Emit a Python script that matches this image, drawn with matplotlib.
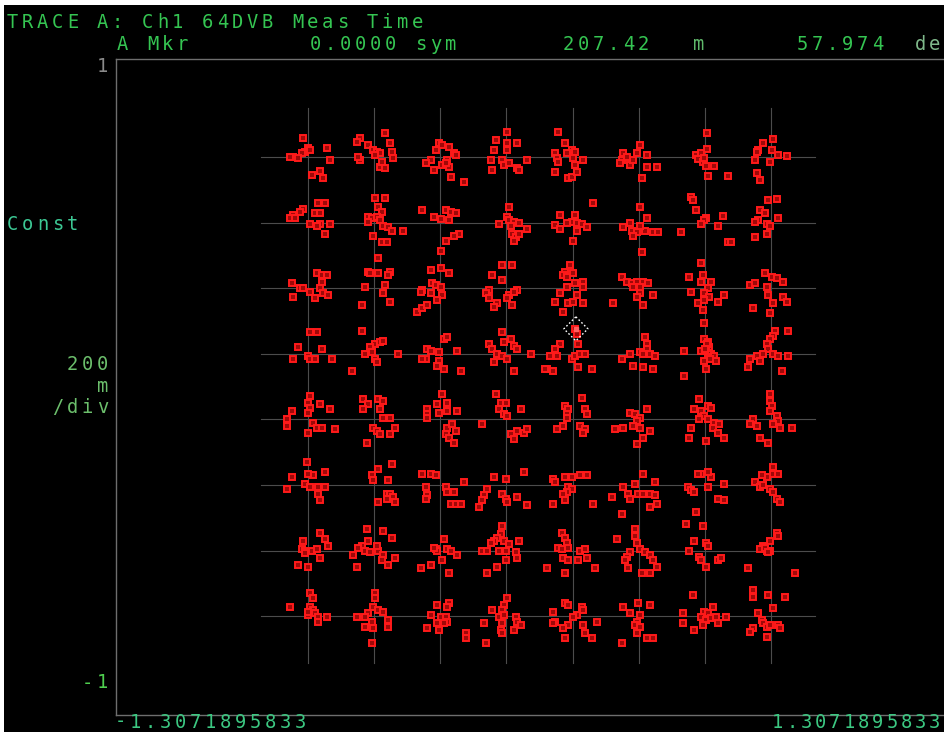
import numpy as np
import matplotlib
matplotlib.use("Agg")
import matplotlib.pyplot as plt
from matplotlib.patches import Rectangle

# 64-QAM ideal levels (normalised I/Q)
LEVELS = [-0.7, -0.5, -0.3, -0.1, 0.1, 0.3, 0.5, 0.7]

# measured symbol errors per constellation point, (dI, dQ) in counts of ERR_STEP;
# rows run from the top Q level down, dQ counted downward as on the analyzer grid
ERR_STEP = 1 / 330.0

ERR_ROW0 = [
    [(-5,-19),(0,-9),(-3,-5),(-6,-4),(-15,0),(-18,0),(-10,1),(2,-7),(19,-9),(22,3),(4,18),(12,14),(15,21)],
    [(-14,-19),(-17,-15),(-6,-12),(-1,-7),(3,-5),(6,-4),(1,-2),(-14,3),(-16,0),(11,-24),(16,-14),(18,-5),(19,1),(6,10),(11,11),(8,5)],
    [(-1,-14),(2,-12),(9,-10),(14,-4),(-4,-7),(-9,3),(-14,6),(-6,13),(2,8),(9,10),(7,3),(11,20),(24,25),(16,-2),(6,6)],
    [(1,-25),(-10,-17),(1,-14),(11,-14),(-12,-7),(1,-7),(-15,3),(-4,3),(-2,8),(21,3),(-14,13),(11,11),(13,13),(3,6)],
    [(-15,-25),(-8,-14),(-18,-4),(-16,1),(-15,5),(-1,-7),(2,-5),(0,1),(2,8),(10,3),(-18,15),(-5,21),(-1,20),(4,15),(-6,-4)],
    [(-16,-4),(-17,3),(-19,6),(-9,8),(-6,3),(-2,-4),(1,-12),(8,-2),(8,10),(18,10),(3,21),(-12,0)],
    [(2,-24),(2,-8),(-9,-2),(-7,2),(-2,5),(1,9),(9,9),(3,19),(23,19),(-4,-4),(-1,1)],
    [(2,-18),(-8,-14),(-13,-7),(-14,-5),(-16,3),(-1,5),(7,-2),(16,-1),(-14,16),(-11,23),(1,-7)],
]
ERR_ROW1 = [
    [(10,-20),(17,-20),(-5,-14),(-8,-11),(-15,-8),(-18,-5),(-13,-5),(7,-10),(12,-10),(2,2),(12,2),(22,2),(17,12),(9,4)],
    [(1,-25),(11,-25),(4,-16),(8,-11),(-6,-6),(-2,-5),(3,-6),(6,-3),(-6,-1),(9,4),(14,5),(18,9),(29,9),(-1,14),(8,20),(13,20)],
    [(-18,-13),(-6,-6),(1,-4),(6,-13),(11,-11),(16,-10),(9,-3),(19,12),(14,14),(6,19),(1,29)],
    [(3,-16),(1,-6),(3,-3),(8,-1),(13,0),(-7,2),(5,4),(21,7),(6,12),(10,15),(13,12),(8,19)],
    [(20,-20),(-13,-8),(2,-8),(-1,-1),(4,0),(9,2),(14,5),(-18,3),(-13,7),(4,9),(0,19),(-6,0)],
    [(1,-16),(8,-5),(-9,0),(-16,5),(-7,9),(-2,10),(6,9),(14,10),(19,10),(3,30),(-6,14),(1,4)],
    [(-14,-26),(-12,-23),(-9,-13),(1,-5),(-1,-3),(-4,2),(13,4),(18,-7),(-24,10),(23,20),(26,20)],
    [(-3,-23),(6,-24),(-11,-13),(-6,-10),(-13,-3),(-16,-1),(-4,2),(-1,4),(7,-5),(-4,12),(-16,15)],
]
ERR_ROW2 = [
    [(9,-15),(14,-13),(19,-13),(14,-6),(12,0),(15,5),(20,7),(-16,-5),(-8,0),(-5,0),(2,4),(-15,9),(7,10)],
    [(-6,-16),(-4,-15),(4,-15),(16,-16),(14,-13),(4,-30),(-9,-1),(11,-3),(9,5),(-12,17),(16,14)],
    [(-9,-18),(1,-20),(9,-15),(-8,-5),(-4,-3),(1,-1),(-18,2),(-9,5),(2,7),(-23,24),(-18,20),(-13,17),(-3,12),(-19,4)],
    [(-4,-23),(6,-23),(-14,-13),(-4,-8),(-17,2),(-20,5),(11,2),(3,7),(-17,10),(-9,15),(-12,19),(1,10),(6,17),(8,4)],
    [(-3,-23),(-8,-16),(-10,-13),(-6,-11),(0,-15),(10,-6),(2,-5),(-6,-1),(-13,5),(10,-1),(4,7),(-18,14),(-5,15),(0,14),(10,15),(-10,24)],
    [(-17,-11),(-12,-6),(-7,-5),(-2,-6),(4,-6),(9,-5),(1,-1),(-6,-1),(1,5),(-2,9),(14,7),(-26,15),(4,17)],
    [(-4,-25),(-16,-11),(-2,-13),(-4,-6),(6,-6),(3,0),(-14,4),(-1,5),(4,9),(19,7),(-7,15),(-2,22),(-1,12),(13,14),(-1,35)],
    [(-6,-15),(1,-11),(6,-10),(12,-6),(-21,-3),(-16,-5),(-4,-1),(-3,7),(12,9),(16,14),(-18,20),(-1,25),(2,15)],
]
ERR_ROW3 = [
    [(2,-22),(9,-22),(-10,-7),(14,-5),(0,2),(2,5),(7,5),(-15,5),(24,5)],
    [(-12,-23),(1,-10),(6,-12),(9,-13),(-4,-7),(-9,0),(-2,-2),(1,5),(3,8),(24,0),(-22,17)],
    [(4,-15),(7,-17),(-13,-5),(-9,-3),(-1,-2),(-14,5),(-18,5),(-1,7),(-3,12),(4,15),(21,17),(17,-3)],
    [(-4,-22),(-2,-12),(5,-15),(8,-8),(11,-5),(-17,-10),(-14,-5),(-9,0),(-4,2),(1,5),(-12,8),(8,17),(25,0)],
    [(2,-25),(4,-20),(5,-10),(-13,-10),(-18,-5),(-23,2),(-16,2),(-1,5),(2,2),(7,0),(12,0),(-26,15),(-20,17),(5,13),(19,15),(-28,15)],
    [(6,-17),(8,-10),(8,-5),(1,-2),(4,0),(11,0),(16,2),(-9,0),(-17,5),(-6,12),(4,13),(14,15)],
    [(-1,-15),(3,-12),(4,-7),(1,-3),(-4,-3),(6,0),(9,2),(3,3),(11,7),(-1,7),(1,15),(-21,-3),(-21,22),(2,-10),(0,-5),(5,5)],
    [(4,-23),(2,-18),(-1,-15),(-4,-10),(-3,-5),(-8,0),(-14,2),(-21,5),(-23,13),(-11,7),(2,0),(7,2),(17,2),(17,-23),(11,17)],
]
ERR_ROW4 = [
    [(2,-23),(0,-16),(2,-11),(12,-15),(-16,-8),(22,-10),(0,-6),(5,4),(9,9),(14,9),(-21,0),(-21,7),(0,14),(27,10)],
    [(-11,-20),(4,-20),(9,-18),(-6,-15),(-11,-10),(6,-10),(9,-1),(16,-1),(-1,9),(3,12),(6,15),(16,15),(21,9),(-7,24)],
    [(2,-25),(-3,-15),(7,-16),(-1,-6),(7,-8),(-13,-10),(-13,-5),(-13,-1),(17,-8),(7,9),(12,5),(16,12),(6,15),(9,19),(14,24)],
    [(-10,-25),(-5,-16),(0,-16),(-7,-10),(-2,-5),(1,-3),(15,-10),(11,12),(18,14),(21,10),(5,15),(8,20),(-24,5)],
    [(9,-21),(-8,-13),(-5,-10),(-6,-5),(12,-10),(14,-5),(-10,7),(-16,10),(7,7),(12,10),(10,14),(-6,-1)],
    [(8,-10),(-9,-6),(-4,-5),(1,-1),(-2,2),(-6,7),(-16,9),(-24,10),(1,9),(4,19),(11,12),(-2,25)],
    [(-6,-20),(3,-13),(6,-11),(-4,-8),(-1,-3),(3,0),(-6,0),(9,4),(14,5),(8,9),(13,14),(19,19),(-14,9),(-16,19),(1,22),(-11,-10)],
    [(-1,-25),(-1,-18),(1,-13),(-1,-8),(6,-3),(7,2),(9,9),(2,5),(-18,0),(-21,5),(-14,7),(-11,19),(-3,24),(21,9)],
]
ERR_ROW5 = [
    [(-16,-8),(5,-10),(17,-13),(-3,-1),(2,2),(10,2),(17,2),(-21,4),(10,9),(12,15),(-1,-23),(0,-11)],
    [(-2,-10),(-1,-5),(14,-5),(13,9),(16,9),(19,12),(21,17),(4,17),(13,14),(4,-16),(18,-21)],
    [(-18,-11),(-9,-11),(-4,-10),(-14,2),(-13,10),(-14,14),(6,2),(7,7),(14,7),(11,19),(16,19),(21,19),(24,-3)],
    [(-12,-8),(0,-6),(-19,4),(-22,10),(-24,15),(-27,22),(-4,9),(0,14),(1,17),(11,12),(21,20),(18,-13)],
    [(-20,-6),(-18,-3),(-8,-8),(-1,-8),(7,-10),(14,-10),(-5,2),(-1,4),(-6,7),(-10,9),(-8,15),(-20,19),(20,19)],
    [(-4,-1),(4,-11),(16,-3),(-16,2),(-11,9),(-9,14),(-1,9),(4,9),(11,9),(16,10),(18,19),(11,22),(-27,12),(-17,29)],
    [(-4,-11),(6,-8),(-17,2),(-14,5),(-11,7),(3,2),(19,-1),(13,14),(19,15),(-9,27),(-7,-11),(3,-13)],
    [(-16,-3),(-4,-8),(2,-11),(-1,4),(2,7),(6,14),(9,17),(-11,2),(-8,0),(-9,-10),(2,-18),(7,-11)],
]
ERR_ROW6 = [
    [(12,-18),(17,-12),(20,-5),(-5,-10),(-6,-2),(-3,0),(4,0),(9,-2),(-10,15),(0,17),(12,8),(-3,3)],
    [(-7,-22),(9,-20),(18,-13),(-6,-10),(-12,-5),(-16,-3),(-9,0),(-4,2),(4,0),(9,5),(8,10),(14,15),(21,8),(-21,5),(-17,17),(3,-5)],
    [(4,-12),(-4,-2),(-3,0),(7,-2),(11,0),(17,5),(2,10),(-9,15),(-19,18),(9,23),(-6,-3)],
    [(-4,-25),(-5,-17),(-9,-13),(-12,-10),(-15,-8),(-2,-10),(3,-7),(13,-10),(-24,0),(-19,0),(-7,0),(0,0),(10,2),(11,8),(0,10),(-9,17),(-19,23)],
    [(-11,-18),(-8,-13),(-6,-8),(-15,-3),(-11,-2),(-5,-3),(7,0),(12,-2),(-10,8),(-5,10),(5,10),(14,8),(22,18),(-26,18),(-8,23)],
    [(-4,-22),(-4,-15),(-2,-8),(-22,-12),(-9,2),(-12,7),(-14,10),(1,-2),(6,2),(11,5),(14,10),(18,17),(-11,18),(3,23),(11,23)],
    [(-19,-27),(-2,-25),(-11,-10),(1,-8),(3,-5),(-16,0),(-6,7),(-4,10),(1,17),(13,10),(16,8)],
    [(6,-18),(7,-15),(-1,-10),(-8,-5),(-11,-2),(-4,0),(-1,0),(-23,18),(24,23),(-6,-3),(-3,2)],
]
ERR_ROW7 = [
    [(2,-23),(5,-18),(2,-9),(5,-6),(7,-3),(0,-1),(10,1),(19,1),(10,6),(-18,-9),(0,-4)],
    [(1,-23),(1,-18),(-1,-9),(4,-6),(9,-4),(-6,-3),(-9,1),(-17,1),(-2,6),(-9,11),(-1,12),(14,4),(14,11),(-2,27)],
    [(-3,-11),(9,-13),(7,-9),(-9,-1),(1,1),(6,1),(7,6),(-3,7),(4,7),(-13,12),(-1,14),(26,17),(26,22)],
    [(1,-18),(-2,-11),(-4,-6),(-14,-6),(-7,1),(-2,-1),(10,1),(11,6),(15,9),(-22,7),(-5,14),(-4,17),(8,14),(-20,27),(-4,7)],
    [(-8,-13),(-5,-11),(9,-9),(4,-1),(0,1),(-20,-4),(-18,6),(-20,7),(-5,9),(-10,12),(-8,22),(10,9),(12,17),(19,22),(24,6),(10,-6)],
    [(-1,-13),(-16,-9),(-9,-3),(1,-1),(-2,6),(-4,9),(1,11),(-2,17),(8,22),(14,22),(-17,27),(11,-11)],
    [(8,-9),(-1,-4),(3,-3),(-4,1),(1,4),(6,2),(11,1),(21,1),(13,7),(-2,9),(-11,14),(-22,-3),(-22,7),(-12,-21)],
    [(-18,-26),(-18,-19),(-3,-21),(14,-19),(2,-8),(-13,-3),(-9,4),(-8,7),(-4,11),(-1,9),(-4,21),(7,9),(9,12),(-18,12),(-21,16)],
]
ERR_ROWS = [ERR_ROW0, ERR_ROW1, ERR_ROW2, ERR_ROW3, ERR_ROW4, ERR_ROW5, ERR_ROW6, ERR_ROW7]

# marker readout
MKR_SYMBOL = "0.0000"
MKR_MAG = 207.42      # m (milli units)
MKR_PHASE = 57.974    # deg

TITLE = "TRACE A: Ch1 64DVB Meas Time"
X_SPAN = 1.3071895833

# ---- figure -------------------------------------------------------------
W, H = 945, 732
fig = plt.figure(figsize=(W / 100, H / 100), dpi=100, facecolor="black")
# thin white margin at top/left of the screen capture
fig.patches.append(Rectangle((0, 1 - 5 / H), 1, 5 / H, transform=fig.transFigure,
                             facecolor="white", edgecolor="none"))
fig.patches.append(Rectangle((0, 0), 4 / W, 1, transform=fig.transFigure,
                             facecolor="white", edgecolor="none"))

PX_X = 330.7   # pixels per unit I
PX_Y = 328.0   # pixels per unit Q
CX, CY = 539.5, 386.5
ax_left, ax_top, ax_bottom = 116, 58.5, 714.5
ax_right = 2 * CX - ax_left
ax = fig.add_axes([ax_left / W, 1 - ax_bottom / H, (ax_right - ax_left) / W,
                   (ax_bottom - ax_top) / H])
ax.set_facecolor("black")
xl = (CX - ax_left) / PX_X
ax.set_xlim(-xl, xl)
ax.set_ylim(-1, 1)
ax.set_xticks([])
ax.set_yticks([])
for side in ("left", "top", "bottom"):
    ax.spines[side].set_color("#6e6e6e")
    ax.spines[side].set_linewidth(1.0)
ax.spines["right"].set_visible(False)

# constellation grid lines
grid_c = "#4c4c4c"
for lv in LEVELS:
    ax.plot([-0.842, 0.833], [lv, lv], color=grid_c, lw=0.8, zorder=1)
    ax.plot([lv, lv], [-0.843, 0.849], color=grid_c, lw=0.8, zorder=1)

# measured symbols
xs, ys = [], []
for r, row in enumerate(ERR_ROWS):
    q0 = LEVELS[::-1][r]
    for c, pts in enumerate(row):
        i0 = LEVELS[c]
        for di, dq in pts:
            xs.append(i0 + di * ERR_STEP)
            ys.append(q0 - dq * ERR_STEP)
ax.plot(xs, ys, linestyle="none", marker="s", markersize=4.2,
        markerfacecolor="#a00808", markeredgecolor="#ff1a1a", markeredgewidth=1.4, zorder=3)

# marker A
mag = MKR_MAG / 1000.0
mx = mag * np.cos(np.radians(MKR_PHASE))
my = mag * np.sin(np.radians(MKR_PHASE))
hx, hy = 12 / PX_X, 12 / PX_Y
ax.plot([mx, mx + hx, mx, mx - hx, mx], [my + hy, my, my - hy, my, my + hy],
        color="white", lw=1.0, linestyle=(0, (1.2, 1.6)), zorder=5)
ax.plot([mx], [my], marker="s", markersize=3.5, color="#ff6060", zorder=6)

# ---- screen annotations (fixed-pitch LCD style) -------------------------
FONT = dict(family="DejaVu Sans Mono", fontsize=13.5)


def lcd(x, y, s, color, pitch=15.0):
    for k, ch in enumerate(s):
        if ch == " ":
            continue
        fig.text((x + k * pitch + 5.5) / W, 1 - y / H, ch, color=color,
                 ha="center", va="center", **FONT)


G1 = "#35c552"
lcd(7, 22, TITLE, G1)
lcd(117, 44, "A Mkr", G1)
lcd(310, 44, MKR_SYMBOL + " sym", G1)
lcd(563, 44, f"{MKR_MAG:.2f}", G1)
lcd(693, 44, "m", "#5fb86a")
lcd(797, 44, f"{MKR_PHASE:.3f}", G1)
lcd(915, 44, "de", "#7fb88a", pitch=14.0)

lcd(7, 224, "Const", "#3cc894")
lcd(67, 365, "200", "#6cbf6c")
lcd(97, 386, "m", "#6cbf6c")
lcd(52, 408, "/div", "#6cbf6c")
lcd(97, 66, "1", "#8a8a8a")
lcd(82, 683, "-1", "#4fcf4f")

lcd(115, 722, f"{-X_SPAN:.10f}", "#3cc882")
lcd(772, 722, f"{X_SPAN:.10f}", "#3cc882", pitch=14.3)

fig.savefig("out.png", dpi=100, facecolor=fig.get_facecolor())
